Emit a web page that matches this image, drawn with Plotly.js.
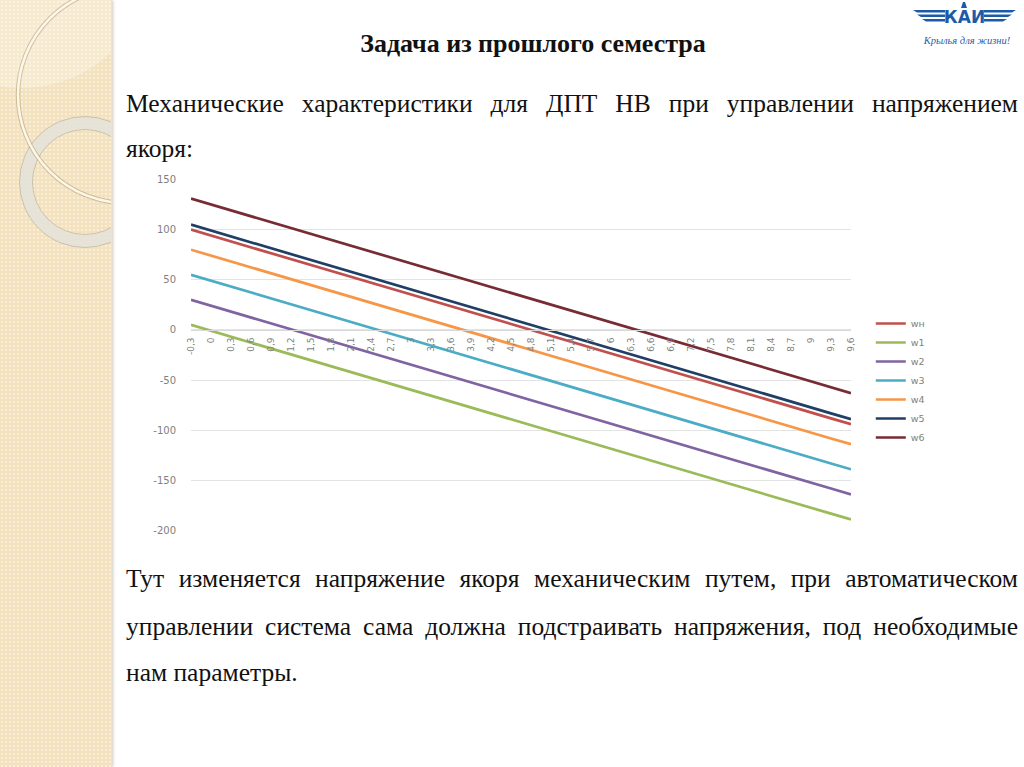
<!DOCTYPE html>
<html><head><meta charset="utf-8">
<script src="https://cdn.plot.ly/plotly-3.0.1.min.js"></script>
<style>
html,body{margin:0;padding:0;width:1024px;height:767px;overflow:hidden;background:#fff;}
#strip{position:absolute;left:0;top:0;width:112px;height:767px;background-color:#f3e2bd;
 background-image:radial-gradient(circle, rgba(255,255,255,0.45) 0.9px, rgba(255,255,255,0) 1.4px);
 background-size:4px 4px; box-shadow:1px 0 3px rgba(120,100,60,0.35);}
#deco{position:absolute;left:0;top:0;}
.t{position:absolute;font-family:"Liberation Serif","Times New Roman",serif;color:#111;white-space:nowrap;line-height:24px;font-size:25.5px;}
.j{text-align:justify;text-align-last:justify;white-space:normal;}
#chart{position:absolute;left:0;top:0;width:1024px;height:767px;}
</style></head>
<body>
<div id="strip"></div>
<svg id="deco" width="112" height="767" viewBox="0 0 112 767">
 <defs><clipPath id="cp"><rect x="0" y="0" width="111" height="767"/></clipPath></defs>
 <g clip-path="url(#cp)">
  <circle cx="22" cy="-40" r="128" fill="rgba(255,255,255,0.28)"/>
  <circle cx="85" cy="182" r="59" fill="none" stroke="rgba(228,226,218,0.85)" stroke-width="13"/>
  <circle cx="85" cy="182" r="65.5" fill="none" stroke="rgba(170,160,140,0.5)" stroke-width="1"/>
  <circle cx="85" cy="182" r="52.5" fill="none" stroke="rgba(170,160,140,0.5)" stroke-width="1"/>
  <circle cx="126" cy="95" r="108" fill="none" stroke="rgba(160,140,100,0.45)" stroke-width="4.5"/>
  <circle cx="126" cy="95" r="108" fill="none" stroke="#fdf7e8" stroke-width="2.5"/>
 </g>
</svg>

<div class="t" style="left:233px;top:32px;width:600px;text-align:center;font-weight:bold;font-size:26px;">Задача из прошлого семестра</div>
<div class="t j" style="left:126px;top:92px;width:892px;">Механические характеристики для ДПТ НВ при управлении напряжением</div>
<div class="t" style="left:126px;top:137px;">якоря:</div>
<div class="t j" style="left:126px;top:567px;width:892px;">Тут изменяется напряжение якоря механическим путем, при автоматическом</div>
<div class="t j" style="left:126px;top:615px;width:892px;">управлении система сама должна подстраивать напряжения, под необходимые</div>
<div class="t" style="left:126px;top:661px;">нам параметры.</div>

<svg style="position:absolute;left:905px;top:2px;" width="119" height="50" viewBox="0 0 119 50">
 <g fill="#1d5aa8">
  <polygon points="8,8 40,8 40,10.5 12,10.5"/>
  <polygon points="12,12.5 40,12.5 40,15 16,15"/>
  <polygon points="17,17 40,17 40,19.5 21,19.5"/>
  <polygon points="111,8 79,8 79,10.5 107,10.5"/>
  <polygon points="107,12.5 79,12.5 79,15 103,15"/>
  <polygon points="102,17 79,17 79,19.5 98,19.5"/>
  <polygon points="58,0 60,0 62,6 56,6"/>
 </g>
 <text x="59.5" y="21" text-anchor="middle" font-family="DejaVu Sans" font-weight="bold" font-size="17" fill="#1d5aa8">КАИ</text>
 <text x="62" y="42" text-anchor="middle" font-family="Liberation Serif" font-style="italic" font-size="10.5" fill="#2a5ea8">Крылья для жизни!</text>
</svg>

<div id="chart"></div>
<script>
const categories = ["-0,3","0","0,3","0,6","0,9","1,2","1,5","1,8","2,1","2,4","2,7","3","3,3","3,6","3,9","4,2","4,5","4,8","5,1","5,4","5,7","6","6,3","6,6","6,9","7,2","7,5","7,8","8,1","8,4","8,7","9","9,3","9,6"];
const wn = [100, 94.1, 88.2, 82.4, 76.5, 70.6, 64.7, 58.8, 53.0, 47.1, 41.2, 35.3, 29.4, 23.6, 17.7, 11.8, 5.9, 0.0, -5.8, -11.7, -17.6, -23.5, -29.4, -35.2, -41.1, -47.0, -52.9, -58.8, -64.6, -70.5, -76.4, -82.3, -88.2, -94.0];
const w1 = [5, -0.9, -6.8, -12.6, -18.5, -24.4, -30.3, -36.2, -42.0, -47.9, -53.8, -59.7, -65.6, -71.4, -77.3, -83.2, -89.1, -95.0, -100.8, -106.7, -112.6, -118.5, -124.4, -130.2, -136.1, -142.0, -147.9, -153.8, -159.6, -165.5, -171.4, -177.3, -183.2, -189.0];
const w2 = [30, 24.1, 18.2, 12.4, 6.5, 0.6, -5.3, -11.2, -17.0, -22.9, -28.8, -34.7, -40.6, -46.4, -52.3, -58.2, -64.1, -70.0, -75.8, -81.7, -87.6, -93.5, -99.4, -105.2, -111.1, -117.0, -122.9, -128.8, -134.6, -140.5, -146.4, -152.3, -158.2, -164.0];
const w3 = [55, 49.1, 43.2, 37.4, 31.5, 25.6, 19.7, 13.8, 8.0, 2.1, -3.8, -9.7, -15.6, -21.4, -27.3, -33.2, -39.1, -45.0, -50.8, -56.7, -62.6, -68.5, -74.4, -80.2, -86.1, -92.0, -97.9, -103.8, -109.6, -115.5, -121.4, -127.3, -133.2, -139.0];
const w4 = [80, 74.1, 68.2, 62.4, 56.5, 50.6, 44.7, 38.8, 33.0, 27.1, 21.2, 15.3, 9.4, 3.6, -2.3, -8.2, -14.1, -20.0, -25.8, -31.7, -37.6, -43.5, -49.4, -55.2, -61.1, -67.0, -72.9, -78.8, -84.6, -90.5, -96.4, -102.3, -108.2, -114.0];
const w5 = [105, 99.1, 93.2, 87.4, 81.5, 75.6, 69.7, 63.8, 58.0, 52.1, 46.2, 40.3, 34.4, 28.6, 22.7, 16.8, 10.9, 5.0, -0.8, -6.7, -12.6, -18.5, -24.4, -30.2, -36.1, -42.0, -47.9, -53.8, -59.6, -65.5, -71.4, -77.3, -83.2, -89.0];
const w6 = [131, 125.1, 119.2, 113.4, 107.5, 101.6, 95.7, 89.8, 84.0, 78.1, 72.2, 66.3, 60.4, 54.6, 48.7, 42.8, 36.9, 31.0, 25.2, 19.3, 13.4, 7.5, 1.6, -4.2, -10.1, -16.0, -21.9, -27.8, -33.6, -39.5, -45.4, -51.3, -57.2, -63.0];
const seriesNames = ["wн","w1","w2","w3","w4","w5","w6"];
const seriesValues = [wn, w1, w2, w3, w4, w5, w6];
const seriesColors = ["#c0504d","#9bbb59","#8064a2","#4bacc6","#f79646","#1f3f66","#772c34"];
const yTickVals = [-200,-150,-100,-50,0,50,100,150];
const yTickText = ["-200","-150","-100","-50","0","50","100","150"];

const traces = seriesNames.map((n,i)=>({
  type:'scatter', mode:'lines', name:n, x:categories, y:seriesValues[i],
  line:{color:seriesColors[i], width:2.7}
}));

const layout = {
  width:1024, height:767,
  margin:{l:191, r:173, t:179, b:236, pad:0},
  paper_bgcolor:'rgba(0,0,0,0)', plot_bgcolor:'rgba(0,0,0,0)',
  showlegend:true,
  legend:{x:1.03, xanchor:'left', y:0.4276, yanchor:'middle',
    font:{family:'DejaVu Sans', size:9.5, color:'#7f7f7f'}, bgcolor:'rgba(0,0,0,0)', borderwidth:0},
  xaxis:{type:'category', range:[0,33], anchor:'free', position:0.5714,
    showgrid:false, zeroline:false, showline:true, linecolor:'#d9d9d9', linewidth:1,
    ticks:'', tickangle:-90, ticklabelstandoff:3, tickfont:{family:'DejaVu Sans', size:9, color:'#7f7f7f'}},
  yaxis:{range:[-200.5,150.5], tickmode:'array', tickvals:yTickVals, ticktext:yTickText,
    showgrid:true, gridcolor:'#e3e3e3', gridwidth:1, zeroline:false, showline:false,
    ticks:'', ticklabelstandoff:14,
    tickfont:{family:'DejaVu Sans', size:10, color:'#7f7f7f'}}
};
Plotly.newPlot('chart', traces, layout, {displayModeBar:false, staticPlot:true});
</script>
</body></html>
